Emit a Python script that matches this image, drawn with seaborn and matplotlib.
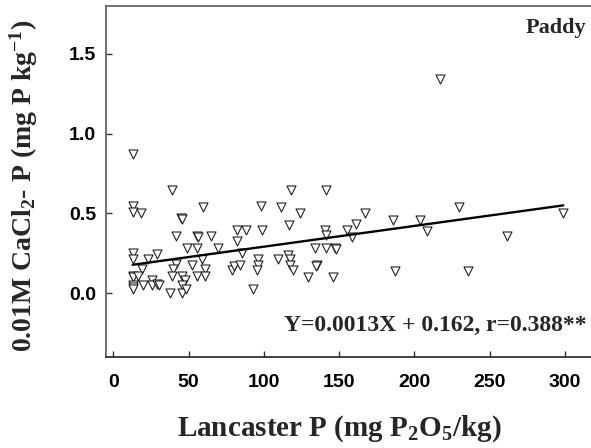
import numpy as np
import pandas as pd
import seaborn as sns
import matplotlib
matplotlib.use('Agg')
import matplotlib.pyplot as plt

# Lancaster P (mg P2O5/kg) vs 0.01M CaCl2-P, paddy soils
lancaster_p = [12.9, 38.8, 12.9, 12.9, 18.2, 59.8, 44.7, 45.5, 41.6, 55.4,
               56.2, 64.9, 49.2, 55.8, 69.7, 82.3, 82.0, 12.9, 12.9, 22.8,
               28.8, 41.4, 58.7, 52.0, 19.3, 39.8, 60.9, 12.9, 12.9, 16.6,
               38.8, 45.4, 55.8, 60.9, 12.9, 12.9, 13.2, 19.9, 25.5, 25.5,
               28.8, 30.6, 47.6, 46.0, 37.6, 45.4, 48.3, 78.6, 80.0,
               118.0, 141.0, 97.9, 111.2, 124.0, 116.9, 88.1, 99.0, 140.6, 141.5,
               155.0, 161.0, 158.3, 85.7, 134.0, 141.0, 147.2, 148.0, 84.1, 96.3,
               96.3, 95.2, 109.2, 116.2, 117.1, 117.3, 119.1, 135.0, 134.5, 129.0,
               146.0, 93.0,
               217.1, 167.1, 186.0, 203.7, 229.7, 298.8, 208.0, 261.2, 187.0, 235.7]
cacl2_p = [0.875, 0.646, 0.546, 0.506, 0.500, 0.540, 0.470, 0.465, 0.360, 0.360,
           0.355, 0.360, 0.285, 0.285, 0.285, 0.396, 0.325, 0.254, 0.216, 0.216,
           0.246, 0.183, 0.212, 0.177, 0.150, 0.150, 0.150, 0.108, 0.100, 0.108,
           0.108, 0.108, 0.108, 0.108, 0.052, 0.040, 0.030, 0.050, 0.083, 0.050,
           0.060, 0.055, 0.083, 0.055, 0.000, 0.000, 0.030, 0.145, 0.172,
           0.646, 0.646, 0.546, 0.540, 0.504, 0.430, 0.396, 0.396, 0.396, 0.364,
           0.396, 0.433, 0.354, 0.250, 0.285, 0.285, 0.285, 0.280, 0.177, 0.212,
           0.177, 0.146, 0.212, 0.240, 0.212, 0.177, 0.146, 0.177, 0.170, 0.104,
           0.104, 0.030,
           1.344, 0.500, 0.460, 0.460, 0.540, 0.500, 0.390, 0.358, 0.140, 0.140]

slope = 0.0013
intercept = 0.162

df = pd.DataFrame({'lancaster': lancaster_p, 'cacl2': cacl2_p})

sns.set_style('ticks')
plt.rcParams['font.family'] = ['Liberation Sans', 'DejaVu Sans']
# bold serif inside the axis-label sub/superscripts
plt.rcParams['mathtext.fontset'] = 'custom'
plt.rcParams['mathtext.rm'] = 'Liberation Serif:bold'
plt.rcParams['mathtext.it'] = 'Liberation Serif:bold'
plt.rcParams['mathtext.bf'] = 'Liberation Serif:bold'
plt.rcParams['mathtext.default'] = 'rm'

fig = plt.figure(figsize=(5.91, 4.48), dpi=100)
ax = fig.add_axes([0.1788, 0.2025, 0.8212, 0.7848])

sns.scatterplot(data=df, x='lancaster', y='cacl2', marker='v', s=42,
                facecolor='white', edgecolor='#222222', linewidth=0.8, ax=ax)

# fitted line over the data range
line_x = np.array([df['lancaster'].min(), df['lancaster'].max()])
sns.lineplot(x=line_x, y=slope * line_x + intercept, color='black', lw=1.7, ax=ax)

ax.set_xlim(-5, 317.2)
ax.set_ylim(-0.4, 1.8)
ax.set_xticks([0, 50, 100, 150, 200, 250, 300])
ax.set_yticks([0.0, 0.5, 1.0, 1.5])
ax.set_yticklabels(['0.0', '0.5', '1.0', '1.5'])

ax.tick_params(direction='in', length=4, width=1, colors='#333333',
               labelcolor='black', labelsize=14)
ax.tick_params(axis='x', pad=12)
ax.tick_params(axis='y', pad=7)
for lab in ax.get_xticklabels() + ax.get_yticklabels():
    lab.set_fontweight('bold')

ax.spines['right'].set_visible(False)
for side in ['top', 'left']:
    ax.spines[side].set_color('#666666')
    ax.spines[side].set_linewidth(1.3)
ax.spines['bottom'].set_color('#222222')
ax.spines['bottom'].set_linewidth(1.2)

serif = 'Liberation Serif'
ax.set_xlabel('Lancaster P (mg P$_2$O$_5$/kg)', family=serif, fontweight='bold',
              fontsize=21)
ax.set_ylabel('0.01M CaCl$_2$- P (mg P kg$^{-1}$)', family=serif, fontweight='bold',
              fontsize=20)
ax.xaxis.set_label_coords(0.482, -0.16)
ax.yaxis.set_label_coords(-0.135, 0.487)

ax.text(0.99, 0.965, 'Paddy', transform=ax.transAxes, ha='right', va='top',
        family=serif, fontweight='bold', fontsize=16)
ax.text(0.99, 0.06, 'Y=0.0013X + 0.162, r=0.388**', transform=ax.transAxes,
        ha='right', va='bottom', family=serif, fontweight='bold', fontsize=17)

fig.savefig('out.png', dpi=100)
